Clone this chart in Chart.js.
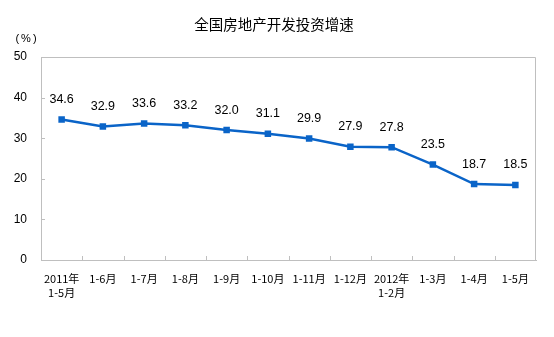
<!DOCTYPE html>
<html>
<head>
<meta charset="utf-8">
<script src="https://cdn.jsdelivr.net/npm/chart.js@4/dist/chart.umd.min.js"></script>
<style>
  html, body { margin: 0; padding: 0; background: #fff; }
  #wrap { width: 554px; height: 337px; position: relative; }
</style>
</head>
<body>
<div id="wrap"><canvas id="c" width="554" height="337"></canvas></div>
<script>
const categories = [
  ['2011年', '1-5月'], '1-6月', '1-7月', '1-8月', '1-9月', '1-10月',
  '1-11月', '1-12月', ['2012年', '1-2月'], '1-3月', '1-4月', '1-5月'
];
const growth = [34.6, 32.9, 33.6, 33.2, 32.0, 31.1, 29.9, 27.9, 27.8, 23.5, 18.7, 18.5];
const yTicks = [0, 10, 20, 30, 40, 50];
const titleText = '全国房地产开发投资增速';
const unitText = '(%)';

const LINE = '#0a64c8';
const AXIS = '#bfbfbf';
const CJK = '"Noto Sans CJK SC", "Noto Sans", sans-serif';
const LATIN = '"Liberation Sans", Arial, sans-serif';

const decor = {
  id: 'decor',
  afterDraw(chart) {
    const ctx = chart.ctx;
    const a = chart.chartArea;
    const x = chart.scales.x;
    const y = chart.scales.y;
    ctx.save();
    // frame: top and right edges
    ctx.strokeStyle = AXIS;
    ctx.lineWidth = 1;
    ctx.beginPath();
    ctx.moveTo(a.left, a.top + 0.5);
    ctx.lineTo(a.right - 0.5, a.top + 0.5);
    ctx.lineTo(a.right - 0.5, a.bottom);
    ctx.stroke();
    // inward tick marks on the y axis
    ctx.beginPath();
    yTicks.forEach(v => {
      const py = Math.round(y.getPixelForValue(v)) + 0.5;
      ctx.moveTo(a.left, py);
      ctx.lineTo(a.left + 4, py);
    });
    // inward tick marks between categories
    for (let i = 1; i < categories.length; i++) {
      const px = Math.round((x.getPixelForValue(i - 1) + x.getPixelForValue(i)) / 2) + 0.5;
      ctx.moveTo(px, a.bottom);
      ctx.lineTo(px, a.bottom - 4);
    }
    ctx.stroke();

    // value labels above each point
    const meta = chart.getDatasetMeta(0);
    ctx.fillStyle = '#000';
    ctx.font = '12.5px ' + LATIN;
    ctx.textAlign = 'center';
    ctx.textBaseline = 'middle';
    meta.data.forEach((pt, i) => {
      ctx.fillText(growth[i].toFixed(1), pt.x, pt.y - 20);
    });

    // title and unit
    ctx.font = '14.5px ' + CJK;
    ctx.fillText(titleText, 274, 24);
    ctx.font = '11px ' + LATIN;
    ctx.letterSpacing = '2px';
    ctx.fillText(unitText, 27, 39);
    ctx.restore();
  }
};

new Chart(document.getElementById('c'), {
  type: 'line',
  data: {
    labels: categories,
    datasets: [{
      data: growth,
      borderColor: LINE,
      backgroundColor: LINE,
      borderWidth: 2.5,
      pointStyle: 'rect',
      pointRadius: 4.6,
      pointBorderWidth: 0,
      tension: 0,
      fill: false
    }]
  },
  options: {
    responsive: false,
    animation: false,
    events: [],
    layout: { padding: { top: 57, right: 18, left: 0, bottom: 0 } },
    plugins: { legend: { display: false }, tooltip: { enabled: false }, title: { display: false } },
    scales: {
      x: {
        type: 'category',
        offset: true,
        grid: { display: true, drawOnChartArea: false, drawTicks: false },
        border: { display: true, color: AXIS, width: 1 },
        ticks: {
          autoSkip: false, maxRotation: 0, minRotation: 0, padding: 12,
          color: '#000',
          font: { family: CJK, size: 11, lineHeight: 1.27 }
        },
        afterFit(s) { s.height = 77; }
      },
      y: {
        min: 0, max: 50,
        afterBuildTicks(s) { s.ticks = yTicks.map(v => ({ value: v })); },
        grid: { display: true, drawOnChartArea: false, drawTicks: false },
        border: { display: true, color: AXIS, width: 1 },
        ticks: {
          padding: 14, color: '#000',
          font: { family: LATIN, size: 12 }
        },
        afterFit(s) { s.width = 41; }
      }
    }
  },
  plugins: [decor]
});
</script>
</body>
</html>
